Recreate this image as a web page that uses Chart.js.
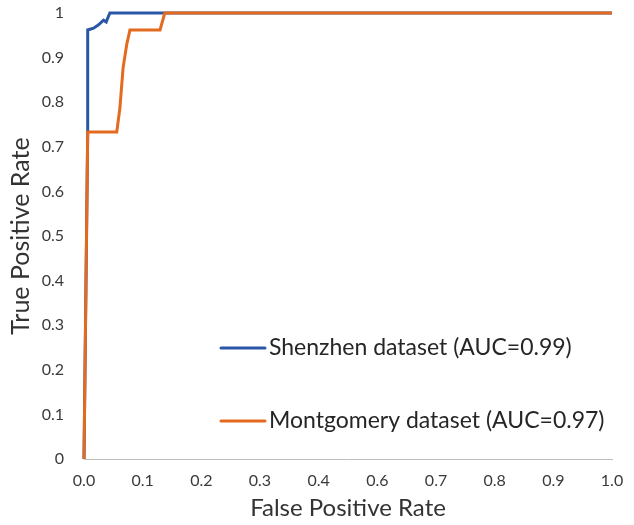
<!DOCTYPE html>
<html>
<head>
<meta charset="utf-8">
<script src="https://cdn.jsdelivr.net/npm/chart.js@4"></script>
<style>
html,body{margin:0;padding:0;background:#fff;}
#wrap{width:634px;height:525px;position:relative;}
</style>
</head>
<body>
<div id="wrap"><canvas id="c" width="634" height="525"></canvas></div>
<script>
const shenzhenLabel = "Shenzhen dataset (AUC=0.99)";
const shenzhenFPR = [0, 0.007, 0.007, 0.018, 0.027, 0.037, 0.042, 0.049, 1.0];
const shenzhenTPR = [0, 0.733, 0.962, 0.966, 0.973, 0.984, 0.980, 1.0, 1.0];

const montgomeryLabel = "Montgomery dataset (AUC=0.97)";
const montgomeryFPR = [0, 0.007, 0.062, 0.068, 0.074, 0.081, 0.087, 0.144, 0.153, 1.0];
const montgomeryTPR = [0, 0.733, 0.733, 0.787, 0.877, 0.930, 0.962, 0.962, 1.0, 1.0];

// x-axis ticks sit at ninths of the range; labels are those values rounded to one decimal
const xTickValues = [0, 0.1111, 0.2222, 0.3333, 0.4444, 0.5556, 0.6667, 0.7778, 0.8889, 1.0];
const xTickLabels = ["0.0", "0.1", "0.2", "0.3", "0.4", "0.6", "0.7", "0.8", "0.9", "1.0"];
const yTickValues = [0, 0.1, 0.2, 0.3, 0.4, 0.5, 0.6, 0.7, 0.8, 0.9, 1];
const yTickLabels = ["0", "0.1", "0.2", "0.3", "0.4", "0.5", "0.6", "0.7", "0.8", "0.9", "1"];

const xTitle = "False Positive Rate";
const yTitle = "True Positive Rate";

const FONT = "Lato, 'Open Sans', sans-serif";
const BLUE = "#2A56A6";
const ORANGE = "#E36A1E";

function pts(xs, ys){ return xs.map((x,i)=>({x:x, y:ys[i]})); }

const legendPlugin = {
  id: 'insideLegend',
  afterDraw(chart){
    const ctx = chart.ctx;
    const items = [
      {ds: chart.data.datasets[0], y: 348},
      {ds: chart.data.datasets[1], y: 421}
    ];
    ctx.save();
    ctx.font = "23px " + FONT;
    ctx.textBaseline = 'middle';
    ctx.fillStyle = '#262626';
    items.forEach(it=>{
      ctx.strokeStyle = it.ds.borderColor;
      ctx.lineWidth = 3;
      ctx.lineCap = 'round';
      ctx.beginPath();
      ctx.moveTo(221, it.y);
      ctx.lineTo(265, it.y);
      ctx.stroke();
      ctx.fillText(it.ds.label, 269, it.y);
    });
    ctx.restore();
  }
};

new Chart(document.getElementById('c'), {
  type: 'line',
  data: {
    datasets: [
      {label: shenzhenLabel, data: pts(shenzhenFPR, shenzhenTPR), borderColor: BLUE, borderWidth: 3, pointRadius: 0, tension: 0, fill: false, order: 1, clip: false},
      {label: montgomeryLabel, data: pts(montgomeryFPR, montgomeryTPR), borderColor: ORANGE, borderWidth: 3, pointRadius: 0, tension: 0, fill: false, order: 0, clip: false}
    ]
  },
  options: {
    responsive: false,
    animation: false,
    layout: {padding: {left: 0, right: 22, top: 13, bottom: 0}},
    plugins: {legend: {display: false}, tooltip: {enabled: false}},
    scales: {
      x: {
        type: 'linear', min: 0, max: 1,
        afterBuildTicks(s){ s.ticks = xTickValues.map(v=>({value:v})); },
        afterFit(s){ s.height = 66; s.paddingLeft = 0; s.paddingRight = 0; },
        grid: {display: false, drawTicks: false},
        border: {display: true, color: '#BFBFBF', width: 1},
        ticks: {color: '#3a3a3a', font: {family: FONT, size: 16}, padding: 12,
                callback: (v, i) => xTickLabels[i]},
        title: {display: true, text: xTitle, color: '#333333', font: {family: FONT, size: 24}, padding: {top: 0, bottom: 2}}
      },
      y: {
        type: 'linear', min: 0, max: 1,
        afterBuildTicks(s){ s.ticks = yTickValues.map(v=>({value:v})); },
        afterFit(s){ s.width = 84; s.paddingTop = 0; s.paddingBottom = 0; },
        grid: {display: false, drawTicks: false},
        border: {display: false},
        ticks: {color: '#3a3a3a', font: {family: FONT, size: 16}, padding: 20,
                callback: (v, i) => yTickLabels[i]},
        title: {display: true, text: yTitle, color: '#333333', font: {family: FONT, size: 25}, padding: {top: 6, bottom: 0}}
      }
    }
  },
  plugins: [legendPlugin]
});
</script>
</body>
</html>
